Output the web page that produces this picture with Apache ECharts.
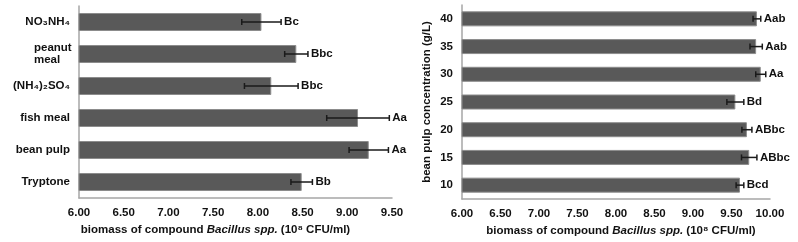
<!DOCTYPE html>
<html>
<head>
<meta charset="utf-8">
<script src="https://cdn.jsdelivr.net/npm/echarts@6/dist/echarts.min.js"></script>
<style>
html,body{margin:0;padding:0;background:#fff;}
#c{width:798px;height:242px;}
</style>
</head>
<body>
<div id="c"></div>
<script>
// ---- data ----
const sourceCategories = ['NO₃NH₄', 'peanut meal', '(NH₄)₂SO₄', 'fish meal', 'bean pulp', 'Tryptone'];
const sourceMeans = [8.04, 8.43, 8.15, 9.12, 9.24, 8.49];
const sourceErrors = [0.22, 0.13, 0.30, 0.35, 0.22, 0.12];
const sourceLetters = ['Bc', 'Bbc', 'Bbc', 'Aa', 'Aa', 'Bb'];

const concCategories = ['40', '35', '30', '25', '20', '15', '10'];
const concMeans = [9.83, 9.82, 9.88, 9.55, 9.70, 9.73, 9.61];
const concErrors = [0.05, 0.08, 0.065, 0.11, 0.065, 0.10, 0.05];
const concLetters = ['Aab', 'Aab', 'Aa', 'Bd', 'ABbc', 'ABbc', 'Bcd'];

const leftAxisRange = [6.0, 9.5];
const rightAxisRange = [6.0, 10.0];
const tickStep = 0.5;
const xAxisTitle = '{b|biomass of compound }{i|Bacillus spp.}{b| (10⁸ CFU/ml)}';
const concAxisTitle = 'bean pulp concentration (g/L)';

// ---- styles ----
const FONT = '"Liberation Sans", Arial, sans-serif';
const AXIS_COLOR = '#a6a6a6';
const BAR_COLOR = '#595959';

function errData(means, errs, letters) {
  return means.map((m, i) => [i, m - errs[i], m + errs[i], letters[i]]);
}

function errRender(params, api) {
  const idx = api.value(0);
  const lo = api.coord([api.value(1), idx]);
  const hi = api.coord([api.value(2), idx]);
  const y = lo[1];
  const cap = 3;
  const st = { stroke: '#1a1a1a', lineWidth: 1.5 };
  return {
    type: 'group',
    children: [
      { type: 'line', shape: { x1: lo[0], y1: y, x2: hi[0], y2: y }, style: st },
      { type: 'line', shape: { x1: lo[0], y1: y - cap, x2: lo[0], y2: y + cap }, style: st },
      { type: 'line', shape: { x1: hi[0], y1: y - cap, x2: hi[0], y2: y + cap }, style: st },
      {
        type: 'text',
        style: {
          x: hi[0] + 3, y: y,
          text: api.value(3),
          fill: '#111',
          font: 'bold 11.5px ' + FONT,
          textVerticalAlign: 'middle',
          verticalAlign: 'middle',
          textAlign: 'left',
          align: 'left'
        }
      }
    ]
  };
}

const labelStyle = { color: '#111', fontFamily: FONT, fontWeight: 'bold', fontSize: 11.5 };

function xAxisCfg(gridIndex, range, padding) {
  return {
    type: 'value', gridIndex: gridIndex,
    min: range[0], max: range[1], interval: tickStep,
    axisLine: { show: true, lineStyle: { color: AXIS_COLOR, width: 1.5 } },
    axisTick: { show: false },
    splitLine: { show: false },
    axisLabel: Object.assign({ margin: 9, formatter: v => v.toFixed(2) }, labelStyle),
    name: xAxisTitle,
    nameLocation: 'middle',
    nameGap: 25,
    nameTextStyle: {
      padding: padding,
      rich: {
        b: { fontFamily: FONT, fontWeight: 'bold', fontSize: 11.5, color: '#111' },
        i: { fontFamily: FONT, fontWeight: 'bold', fontStyle: 'italic', fontSize: 11.5, color: '#111' }
      }
    }
  };
}

const chart = echarts.init(document.getElementById('c'), null, { renderer: 'canvas' });
chart.setOption({
  animation: false,
  backgroundColor: '#fff',
  grid: [
    { left: 79, top: 6, width: 313, height: 192 },
    { left: 462, top: 5, width: 308, height: 194 }
  ],
  xAxis: [
    xAxisCfg(0, leftAxisRange, [0, 40, 0, 0]),
    xAxisCfg(1, rightAxisRange, [0, 0, 0, 10])
  ],
  yAxis: [
    {
      type: 'category', gridIndex: 0, data: sourceCategories, inverse: true,
      axisLine: { show: true, lineStyle: { color: AXIS_COLOR, width: 1.5 } },
      axisTick: { show: false },
      axisLabel: Object.assign({
        margin: 9,
        formatter: v => v === 'peanut meal' ? '{w|peanut}\n{w|meal}' : v,
        rich: { w: { width: 36, align: 'left', fontFamily: FONT, fontWeight: 'bold', fontSize: 11.5, color: '#111', lineHeight: 12 } }
      }, labelStyle)
    },
    {
      type: 'category', gridIndex: 1, data: concCategories, inverse: true,
      axisLine: { show: true, lineStyle: { color: AXIS_COLOR, width: 1.5 } },
      axisTick: { show: false },
      axisLabel: Object.assign({ margin: 9 }, labelStyle),
      name: concAxisTitle,
      nameLocation: 'middle',
      nameRotate: 90,
      nameGap: 29,
      nameTextStyle: { fontFamily: FONT, fontWeight: 'bold', fontSize: 11.5, color: '#111' }
    }
  ],
  series: [
    {
      type: 'bar', xAxisIndex: 0, yAxisIndex: 0, data: sourceMeans, barWidth: 18,
      itemStyle: { color: BAR_COLOR, borderColor: '#8c8c8c', borderWidth: 1 }
    },
    {
      type: 'custom', xAxisIndex: 0, yAxisIndex: 0,
      data: errData(sourceMeans, sourceErrors, sourceLetters),
      renderItem: errRender, clip: false, z: 5
    },
    {
      type: 'bar', xAxisIndex: 1, yAxisIndex: 1, data: concMeans, barWidth: 15,
      itemStyle: { color: BAR_COLOR, borderColor: '#8c8c8c', borderWidth: 1 }
    },
    {
      type: 'custom', xAxisIndex: 1, yAxisIndex: 1,
      data: errData(concMeans, concErrors, concLetters),
      renderItem: errRender, clip: false, z: 5
    }
  ]
});
</script>
</body>
</html>
